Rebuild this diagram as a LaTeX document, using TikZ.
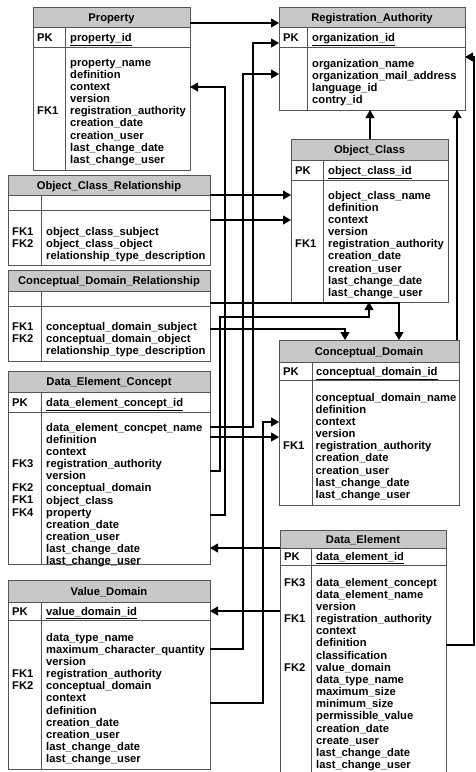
\documentclass[tikz,border=0pt]{standalone}
\usepackage{fontspec}
\setmainfont{Liberation Sans}
\usetikzlibrary{arrows.meta}
\definecolor{hdrgray}{RGB}{200,200,200}
\definecolor{boxc}{RGB}{85,85,85}
\newcommand\erfont{\fontsize{11.2}{12.15}\selectfont\bfseries}
\tikzset{
 boxnode/.style={rectangle, inner sep=0pt, outer sep=0pt, draw=none},
 boxline/.style={draw=boxc, line width=0.9pt},
 hdrfill/.style={fill=hdrgray},
 titletext/.style={font=\erfont, inner sep=0pt},
 fieldtext/.style={font=\erfont, inner sep=0pt, align=left, anchor=north west},
 fktext/.style={font=\erfont, inner sep=0pt, anchor=base west},
 conn/.style={draw=black, line width=1.1pt},
 tip/.style={-{Triangle[length=8pt,width=9pt]}},
}
% name, l, t, r, header bottom, pk bottom, bottom, divider x, title
\newcommand\ERBox[9]{%
 \node[boxnode, minimum width={(#4-#2)*1pt}, minimum height={(#7-#3)*1pt}] (#1) at ({(#2+#4)/2},{(#3+#7)/2}) {};
 \fill[hdrfill] (#1.north west) rectangle (#4,#5);
 \draw[boxline] (#1.north west) rectangle (#1.south east);
 \draw[boxline] (#2,#5) -- (#4,#5) (#2,#6) -- (#4,#6) (#8,#5) -- (#8,#7);
 \node[titletext, anchor=base] (#1-title) at ({(#2+#4)/2},{(#3+#5)/2+4}) {#9};
}
% name, l, d, hb, pb, key
\newcommand\PKrow[6]{%
 \node[fktext] (#1-pk) at ({#2+4},{(#4+#5)/2+4}) {PK};
 \node[fktext] (#1-key) at ({#3+5},{(#4+#5)/2+4}) {\underline{#6}};
}
% name, x, first baseline, text
\newcommand\fields[4]{\node[fieldtext] (#1) at (#2,{#3-8.5}) {\strut #4};}
% name, x, first baseline, row, label
\newcommand\fk[5]{\node[fktext] (#1) at (#2,{#3+(#4-1)*12.15}) {#5};}
\begin{document}
\begin{tikzpicture}[x=1pt,y=-1pt]
\fill[white] (0,0) rectangle (475,772);
\useasboundingbox (0,0) rectangle (475,772);

% Property
\ERBox{Prop}{33}{7}{190}{27}{47}{170}{65}{Property}
\PKrow{Prop}{33}{65}{27}{47}{property\_id}
\fields{Prop-f}{70}{66}{property\_name\\definition\\context\\version\\registration\_authority\\creation\_date\\creation\_user\\last\_change\_date\\last\_change\_user}
\fk{Prop-fk1}{37}{66}{5}{FK1}

% Registration_Authority
\ERBox{RA}{279}{7}{465}{27}{47}{110}{307}{Registration\_Authority}
\PKrow{RA}{279}{307}{27}{47}{organization\_id}
\fields{RA-f}{312}{67}{organization\_name\\organization\_mail\_address\\language\_id\\contry\_id}

% Object_Class_Relationship
\ERBox{OCR}{8}{175}{210}{195}{210}{265}{41}{Object\_Class\_Relationship}
\fields{OCR-f}{46}{235}{object\_class\_subject\\object\_class\_object\\relationship\_type\_description}
\fk{OCR-fk1}{12}{235}{1}{FK1}
\fk{OCR-fk2}{12}{235}{2}{FK2}

% Conceptual_Domain_Relationship
\ERBox{CDR}{8}{270}{210}{291}{306}{361}{41}{Conceptual\_Domain\_Relationship}
\fields{CDR-f}{46}{330}{conceptual\_domain\_subject\\conceptual\_domain\_object\\relationship\_type\_description}
\fk{CDR-fk1}{12}{330}{1}{FK1}
\fk{CDR-fk2}{12}{330}{2}{FK2}

% Object_Class
\ERBox{OC}{291}{139}{448}{160}{180}{302}{323}{Object\_Class}
\PKrow{OC}{291}{323}{160}{180}{object\_class\_id}
\fields{OC-f}{328}{199}{object\_class\_name\\definition\\context\\version\\registration\_authority\\creation\_date\\creation\_user\\last\_change\_date\\last\_change\_user}
\fk{OC-fk1}{295}{199}{5}{FK1}

% Data_Element_Concept
\ERBox{DEC}{8}{371}{210}{392}{412}{564}{41}{Data\_Element\_Concept}
\PKrow{DEC}{8}{41}{392}{412}{data\_element\_concept\_id}
\fields{DEC-f}{46}{431}{data\_element\_concpet\_name\\definition\\context\\registration\_authority\\version\\conceptual\_domain\\object\_class\\property\\creation\_date\\creation\_user\\last\_change\_date\\last\_change\_user}
\fk{DEC-fk3}{12}{431}{4}{FK3}
\fk{DEC-fk2}{12}{431}{6}{FK2}
\fk{DEC-fk1}{12}{431}{7}{FK1}
\fk{DEC-fk4}{12}{431}{8}{FK4}

% Conceptual_Domain
\ERBox{CD}{279}{340}{459}{362}{380}{505}{312}{Conceptual\_Domain}
\PKrow{CD}{279}{311}{362}{380}{conceptual\_domain\_id}
\fields{CD-f}{315.5}{401}{conceptual\_domain\_name\\definition\\context\\version\\registration\_authority\\creation\_date\\creation\_user\\last\_change\_date\\last\_change\_user}
\fk{CD-fk1}{283}{401}{5}{FK1}

% Value_Domain
\ERBox{VD}{8}{580}{210}{602}{620}{769}{41}{Value\_Domain}
\PKrow{VD}{8}{41}{602}{620}{value\_domain\_id}
\fields{VD-f}{46}{641}{data\_type\_name\\maximum\_character\_quantity\\version\\registration\_authority\\conceptual\_domain\\context\\definition\\creation\_date\\creation\_user\\last\_change\_date\\last\_change\_user}
\fk{VD-fk1}{12}{641}{4}{FK1}
\fk{VD-fk2}{12}{641}{5}{FK2}

% Data_Element
\ERBox{DE}{280}{530}{446}{548}{565}{790}{311}{Data\_Element}
\PKrow{DE}{280}{311}{548}{565}{data\_element\_id}
\fields{DE-f}{316}{586}{data\_element\_concept\\data\_element\_name\\version\\registration\_authority\\context\\definition\\classification\\value\_domain\\data\_type\_name\\maximum\_size\\minimum\_size\\permissible\_value\\creation\_date\\create\_user\\last\_change\_date\\last\_change\_user}
\fk{DE-fk3}{284}{586}{1}{FK3}
\fk{DE-fk1}{284}{586}{4}{FK1}
\fk{DE-fk2}{284}{586}{8}{FK2}

% connectors
\draw[conn,tip] (Prop.east |- 0,23) -- (RA.west |- 0,23);
\draw[conn,tip] (DEC.east |- 0,427) -| (253,43) -- (RA.west |- 0,43);
\draw[conn,tip] (VD.east |- 0,649) -| (243,74) -- (RA.west |- 0,74);
\draw[conn,tip] (DEC.east |- 0,515) -| (225,87) -- (Prop.east |- 0,87);
\draw[conn,tip] (OCR.east |- 0,195) -- (OC.west |- 0,195);
\draw[conn,tip] (OCR.east |- 0,220) -- (OC.west |- 0,220);
\draw[conn,tip] (OC.north -| 370,0) -- (RA.south -| 370,0);
\draw[conn,tip] (CD.north -| 457,0) -- (RA.south -| 457,0);
\draw[conn,tip] (CDR.east |- 0,303) -| (CD.north -| 399,0);
\draw[conn,tip] (CDR.east |- 0,329) -| (CD.north -| 345,0);
\draw[conn,tip] (DEC.east |- 0,471) -| (220,317) -| (OC.south -| 369,0);
\draw[conn,tip] (DEC.east |- 0,437) -- (CD.west |- 0,437);
\draw[conn,tip] (VD.east |- 0,703) -| (263,422) -- (CD.west |- 0,422);
\draw[conn,tip] (DE.west |- 0,548) -- (DEC.east |- 0,548);
\draw[conn,tip] (DE.west |- 0,611) -- (VD.east |- 0,611);
\draw[conn,tip] (DE.east |- 0,645) -| (474,57) -- (RA.east |- 0,57);
\end{tikzpicture}
\end{document}
